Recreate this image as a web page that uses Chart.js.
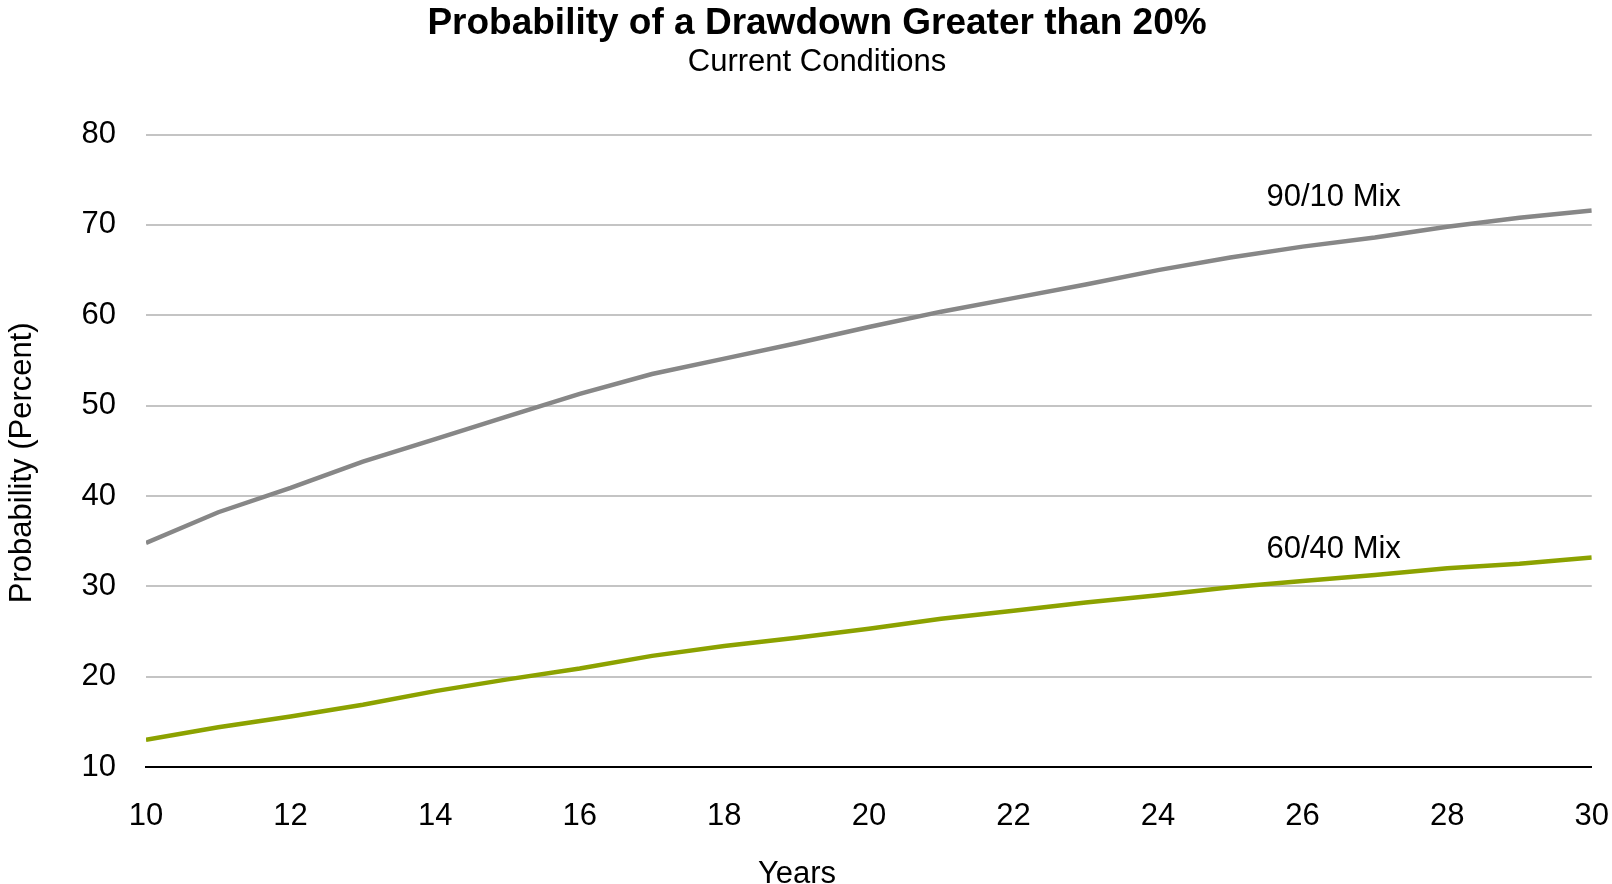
<!DOCTYPE html>
<html>
<head>
<meta charset="utf-8">
<title>Probability of a Drawdown Greater than 20%</title>
<script src="https://cdn.jsdelivr.net/npm/chart.js@4.4.1/dist/chart.umd.min.js"></script>
<style>
  html, body { margin: 0; padding: 0; background: #fff; overflow: hidden; }
  #wrap { width: 1612px; height: 884px; position: relative; }
</style>
</head>
<body>
<div id="wrap"><canvas id="drawdown"></canvas></div>
<script>
var years = [10, 11, 12, 13, 14, 15, 16, 17, 18, 19, 20, 21, 22, 23, 24, 25, 26, 27, 28, 29, 30];
var mix9010 = [34.8, 38.2, 40.9, 43.8, 46.3, 48.8, 51.3, 53.5, 55.2, 56.9, 58.7, 60.4, 61.9, 63.4, 65.0, 66.4, 67.6, 68.6, 69.8, 70.8, 71.6];
var mix6040 = [13.0, 14.4, 15.6, 16.9, 18.4, 19.7, 20.9, 22.3, 23.4, 24.3, 25.3, 26.4, 27.3, 28.2, 29.0, 29.9, 30.6, 31.25, 32.0, 32.5, 33.2];
var yTicks = [10, 20, 30, 40, 50, 60, 70, 80];
var xTicks = [10, 12, 14, 16, 18, 20, 22, 24, 26, 28, 30];
var xTitle = 'Years';
var yTitle = 'Probability (Percent)';

// line labels, placed in data units
var seriesLabels = [
    { text: '90/10 Mix', x: 25.5, y: 73.0 },
    { text: '60/40 Mix', x: 25.5, y: 34.1 }
];

var FONT = "'Liberation Sans', Arial, sans-serif";
var GRAY = '#878787';
var GREEN = '#8ca200';

function points(values) {
    return years.map(function (yr, i) {
        return { x: yr, y: values[i] };
    });
}

var lineLabels = {
    id: 'lineLabels',
    afterDatasetsDraw: function (chart) {
        var ctx = chart.ctx;
        var xs = chart.scales.x;
        var ys = chart.scales.y;
        ctx.save();
        ctx.font = '31px ' + FONT;
        ctx.fillStyle = '#000';
        ctx.textAlign = 'left';
        ctx.textBaseline = 'middle';
        seriesLabels.forEach(function (l) {
            ctx.fillText(l.text, xs.getPixelForValue(l.x), ys.getPixelForValue(l.y));
        });
        ctx.restore();
    }
};

// axis titles sit off the axis centres, so they are drawn here
var axisTitles = {
    id: 'axisTitles',
    afterDraw: function (chart) {
        var ctx = chart.ctx;
        var area = chart.chartArea;
        ctx.save();
        ctx.font = '31px ' + FONT;
        ctx.fillStyle = '#000';
        ctx.textAlign = 'center';
        ctx.textBaseline = 'middle';
        ctx.fillText(xTitle, chart.width / 2 - 9, chart.height - 10);
        ctx.translate(22, (area.top + area.bottom) / 2 + 12);
        ctx.rotate(-Math.PI / 2);
        ctx.fillText(yTitle, 0, 0);
        ctx.restore();
    }
};

var ctx = document.getElementById('drawdown').getContext('2d');

var chart = new Chart(ctx, {
    type: 'line',
    data: {
        datasets: [{
            label: '90/10 Mix',
            data: points(mix9010),
            borderColor: GRAY,
            borderWidth: 4.5,
            pointRadius: 0,
            tension: 0
        }, {
            label: '60/40 Mix',
            data: points(mix6040),
            borderColor: GREEN,
            borderWidth: 4.5,
            pointRadius: 0,
            tension: 0
        }]
    },
    options: {
        responsive: true,
        maintainAspectRatio: false,
        animation: false,
        // right side is negative so the centred title sits a little right of the canvas middle
        layout: { padding: { left: 0, right: -22, top: 0, bottom: 0 } },
        plugins: {
            legend: { display: false },
            tooltip: { enabled: false },
            title: {
                display: true,
                text: 'Probability of a Drawdown Greater than 20%',
                color: '#000',
                font: { family: FONT, size: 37, weight: 'bold' },
                padding: { top: 2, bottom: 0 }
            },
            subtitle: {
                display: true,
                text: 'Current Conditions',
                color: '#000',
                font: { family: FONT, size: 31 },
                padding: { top: -3, bottom: 54 }
            }
        },
        scales: {
            x: {
                type: 'linear',
                min: 10,
                max: 30,
                afterBuildTicks: function (axis) {
                    axis.ticks = xTicks.map(function (v) { return { value: v }; });
                },
                afterFit: function (axis) {
                    axis.height = 117;
                },
                grid: { display: false, drawTicks: false },
                border: { display: true, color: '#000', width: 2 },
                ticks: {
                    color: '#000',
                    // tall line height pushes the labels down without widening the side padding
                    font: { family: FONT, size: 31, lineHeight: 2.97 },
                    padding: 3,
                    maxRotation: 0
                }
            },
            y: {
                min: 10,
                max: 80,
                afterBuildTicks: function (axis) {
                    axis.ticks = yTicks.map(function (v) { return { value: v }; });
                },
                afterFit: function (axis) {
                    axis.width = 146;
                },
                grid: {
                    drawTicks: false,
                    lineWidth: 2,
                    color: function (c) {
                        return c.tick && c.tick.value === 10 ? '#000' : '#c4c4c4';
                    }
                },
                border: { display: false },
                ticks: {
                    color: '#000',
                    font: { family: FONT, size: 31 },
                    padding: 30
                }
            }
        }
    },
    plugins: [lineLabels, axisTitles]
});
</script>
</body>
</html>
